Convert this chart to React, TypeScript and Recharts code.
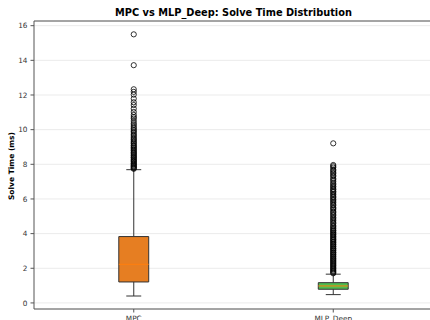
import React from 'react';
import {
  ComposedChart,
  Scatter,
  XAxis,
  YAxis,
  CartesianGrid,
  ReferenceArea,
  ReferenceLine,
} from 'recharts';

const categories = ['MPC', 'MLP_Deep'];
const positions = [1, 2];
const q1 = [1.21, 0.79];
const medians = [2.23, 0.98];
const q3 = [3.83, 1.17];
const whiskerLow = [0.4, 0.48];
const whiskerHigh = [7.69, 1.66];
const boxColors = ['#e67e22', '#4fbd4f'];

const mpcOutliers = [
  15.5, 13.72, 12.33, 12.18, 12.02, 11.79, 11.58, 11.42, 11.21, 11.02, 10.85,
  10.73, 10.64, 10.5, 10.37, 10.27, 10.16, 10.07, 9.98, 9.9, 9.81, 9.72, 9.64,
  9.56, 9.47, 9.41, 9.33, 9.25, 9.19, 9.1, 9.05, 8.97, 8.92, 8.84, 8.79, 8.71,
  8.66, 8.6, 8.53, 8.48, 8.41, 8.37, 8.3, 8.24, 8.19, 8.14, 8.07, 8.03, 7.97,
  7.92, 7.88, 7.83, 7.78, 7.74,
];

const mlpOutliers = [
  9.21, 7.96, 7.89, 7.81, 7.7, 7.63, 7.54, 7.47, 7.37, 7.31, 7.19, 7.11, 7.02,
  6.91, 6.84, 6.74, 6.69, 6.58, 6.53, 6.44, 6.39, 6.29, 6.23, 6.14, 6.08, 5.99,
  5.93, 5.83, 5.77, 5.67, 5.61, 5.51, 5.45, 5.37, 5.27, 5.21, 5.12, 5.05, 4.95,
  4.89, 4.79, 4.73, 4.63, 4.57, 4.47, 4.41, 4.33, 4.27, 4.19, 4.15, 4.07, 4.02,
  3.95, 3.91, 3.83, 3.79, 3.71, 3.66, 3.61, 3.53, 3.49, 3.41, 3.37, 3.29, 3.25,
  3.17, 3.13, 3.06, 3.01, 2.93, 2.89, 2.82, 2.77, 2.7, 2.65, 2.58, 2.53, 2.47,
  2.41, 2.35, 2.29, 2.23, 2.17, 2.12, 2.05, 1.99, 1.94, 1.87, 1.82, 1.76, 1.71,
];

const yTicks = [0, 2, 4, 6, 8, 10, 12, 14, 16];
const yMin = -0.35;
const yMax = 16.27;

const flierData = [
  mpcOutliers.map(v => ({ x: positions[0], y: v })),
  mlpOutliers.map(v => ({ x: positions[1], y: v })),
];

const Flier = (props: any) => (
  <circle cx={props.cx} cy={props.cy} r={2.6} fill="none" stroke="#000" strokeWidth={0.8} />
);

const tickStyle = { fontSize: 7.3, fill: '#333', fontFamily: 'DejaVu Sans' };

export default function App() {
  const boxHalf = 0.075;
  const capHalf = 0.0375;
  return (
    <div
      style={{
        position: 'absolute',
        left: 0,
        top: 0,
        width: 430,
        height: 320,
        overflow: 'hidden',
        background: '#fff',
        fontFamily: 'DejaVu Sans',
      }}
    >
      <div
        style={{
          position: 'absolute',
          top: 7,
          left: 34,
          width: 399,
          textAlign: 'center',
          fontWeight: 'bold',
          fontSize: 9.8,
          lineHeight: '12px',
          color: '#000',
        }}
      >
        MPC vs MLP_Deep: Solve Time Distribution
      </div>
      <div
        style={{
          position: 'absolute',
          left: -38,
          top: 160,
          width: 100,
          height: 12,
          lineHeight: '12px',
          textAlign: 'center',
          fontWeight: 'bold',
          fontSize: 7.5,
          transform: 'rotate(-90deg)',
          color: '#000',
        }}
      >
        Solve Time (ms)
      </div>
      <ComposedChart width={433} height={320} margin={{ top: 21, right: 0, bottom: 0, left: 0 }}>
        <CartesianGrid vertical={false} stroke="#ebebeb" />
        <XAxis
          type="number"
          dataKey="x"
          domain={[0.5, 2.5]}
          ticks={positions}
          allowDataOverflow
          tickFormatter={(v: number) => categories[positions.indexOf(v)] ?? ''}
          height={11}
          tick={tickStyle}
          tickSize={3.5}
          tickMargin={3}
          stroke="#555"
        />
        <YAxis
          type="number"
          dataKey="y"
          domain={[yMin, yMax]}
          ticks={yTicks}
          allowDataOverflow
          width={34}
          tick={tickStyle}
          tickSize={3.5}
          tickMargin={3}
          stroke="#555"
        />
        <ReferenceLine y={yMax} stroke="#555" ifOverflow="visible" />
        {positions.map((p, i) => (
          <ReferenceLine
            key={'wl' + i}
            segment={[{ x: p, y: whiskerLow[i] }, { x: p, y: q1[i] }]}
            stroke="#333"
          />
        ))}
        {positions.map((p, i) => (
          <ReferenceLine
            key={'wh' + i}
            segment={[{ x: p, y: q3[i] }, { x: p, y: whiskerHigh[i] }]}
            stroke="#333"
          />
        ))}
        {positions.map((p, i) => (
          <ReferenceLine
            key={'cl' + i}
            segment={[{ x: p - capHalf, y: whiskerLow[i] }, { x: p + capHalf, y: whiskerLow[i] }]}
            stroke="#333"
          />
        ))}
        {positions.map((p, i) => (
          <ReferenceLine
            key={'ch' + i}
            segment={[{ x: p - capHalf, y: whiskerHigh[i] }, { x: p + capHalf, y: whiskerHigh[i] }]}
            stroke="#333"
          />
        ))}
        {positions.map((p, i) => (
          <ReferenceArea
            key={'box' + i}
            x1={p - boxHalf}
            x2={p + boxHalf}
            y1={q1[i]}
            y2={q3[i]}
            fill={boxColors[i]}
            fillOpacity={1}
            stroke="#333"
            strokeWidth={1}
          />
        ))}
        {positions.map((p, i) => (
          <ReferenceLine
            key={'med' + i}
            segment={[{ x: p - boxHalf, y: medians[i] }, { x: p + boxHalf, y: medians[i] }]}
            stroke="#ff7f0e"
            strokeWidth={1}
          />
        ))}
        {flierData.map((d, i) => (
          <Scatter key={'fl' + i} data={d} shape={Flier} isAnimationActive={false} />
        ))}
      </ComposedChart>
    </div>
  );
}
